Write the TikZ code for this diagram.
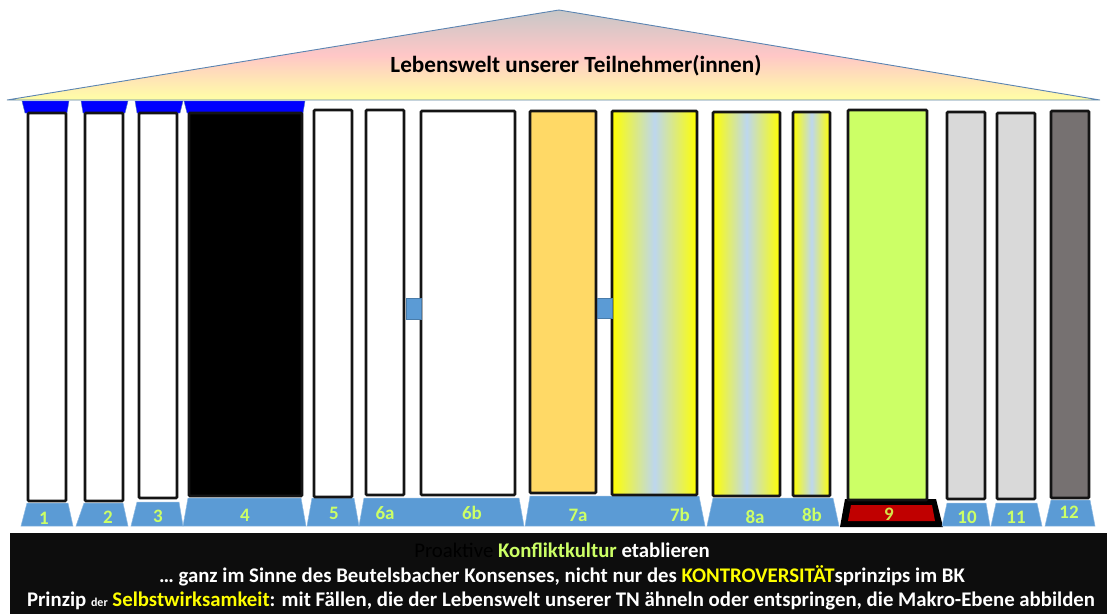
\documentclass[tikz,border=0pt]{standalone}
\usepackage{fontspec}
\setmainfont{Carlito}
\definecolor{capblue}{HTML}{0000FF}
\definecolor{baseblue}{HTML}{5B9BD5}
\definecolor{lgreen}{HTML}{CCFF66}
\definecolor{orangey}{HTML}{FFD966}
\definecolor{lblue}{HTML}{BDD7EE}
\definecolor{ygreen}{HTML}{CCFF66}
\definecolor{lgray}{HTML}{D9D9D9}
\definecolor{dgray}{HTML}{767171}
\definecolor{darkred}{HTML}{C00000}
\definecolor{band}{HTML}{0D0D0D}
\definecolor{roofline}{HTML}{5B84B1}
\definecolor{kyellow}{HTML}{FFFF00}
\definecolor{nineyellow}{HTML}{D4E34A}
\tikzset{
  col/.style={draw=black!92, line width=2.6pt, rounded corners=1pt, inner sep=0pt},
  gradcol/.style={col, left color=kyellow, right color=kyellow, middle color=lblue},
  capital/.style={fill=capblue, draw=roofline, line width=0.4pt},
  basepart/.style={fill=baseblue, draw=baseblue!70!white, line width=0.5pt},
  blabel/.style={text=lgreen, font=\bfseries\fontsize{19}{19}\selectfont, inner sep=0pt},
  link/.style={fill=baseblue, draw=baseblue!80!black, line width=0.5pt, inner sep=0pt},
  line/.style={text=white, font=\bfseries\fontsize{20.8}{22}\selectfont, inner sep=0pt},
}
\begin{document}
\begin{tikzpicture}[x=1pt,y=-1pt]
\useasboundingbox (0,0) rectangle (1107,614);
% roof
\shade[top color=black!22, bottom color=yellow!35, middle color=red!22] (7,100) -- (559,10) -- (1100,100) -- cycle;
\draw[roofline, line width=0.9pt] (7,100) -- (559,10) -- (1100,100) -- cycle;
\node[font=\bfseries\fontsize{23.2}{24}\selectfont, inner sep=0pt] (title) at (576,66) {Lebenswelt unserer Teilnehmer(innen)};
% capitals
\draw[capital] (22,101) -- (69,101) -- (67,113) -- (25,113) -- cycle;
\draw[capital] (81,101) -- (128,101) -- (125,113) -- (83,113) -- cycle;
\draw[capital] (135,101) -- (183,101) -- (180,113) -- (137,113) -- cycle;
\draw[capital] (184,101) -- (305,101) -- (303,113) -- (187,113) -- cycle;
% bases
\draw[basepart] (27,503) -- (68,503) -- (73,526) -- (21,526) -- cycle;
\draw[basepart] (84,503) -- (123,503) -- (128,526) -- (76,526) -- cycle;
\draw[basepart] (137,502) -- (179,502) -- (183,526) -- (131,526) -- cycle;
\draw[basepart] (188,498) -- (301,498) -- (306,526) -- (183,526) -- cycle;
\draw[basepart] (312,498) -- (354,498) -- (359,526) -- (307,526) -- cycle;
\draw[basepart] (364,498) -- (519,498) -- (524,526) -- (359,526) -- cycle;
\draw[basepart] (530,496) -- (699,496) -- (705,526) -- (525,526) -- cycle;
\draw[basepart] (713,498) -- (833,498) -- (839,526) -- (707,526) -- cycle;
\fill[black] (845,499) -- (936,499) -- (943,527) -- (840,527) -- cycle;
\fill[darkred] (851,505) -- (932,505) -- (935,521) -- (848,521) -- cycle;
\draw[basepart] (947,503) -- (986,503) -- (990,526) -- (942,526) -- cycle;
\draw[basepart] (996,503) -- (1037,503) -- (1042,526) -- (991,526) -- cycle;
\draw[basepart] (1051,500) -- (1090,500) -- (1095,526) -- (1045,526) -- cycle;
% columns
\node[col, fill=white, minimum width=38pt, minimum height=388pt] (c1) at (47,307) {};
\node[col, fill=white, minimum width=38pt, minimum height=388pt] (c2) at (104,307) {};
\node[col, fill=white, minimum width=38pt, minimum height=385pt] (c3) at (158,305.5) {};
\node[col, fill=black, minimum width=113pt, minimum height=383pt] (c4) at (245.5,304.5) {};
\node[col, fill=white, minimum width=38pt, minimum height=387pt] (c5) at (333,303.5) {};
\node[col, fill=white, minimum width=38pt, minimum height=385pt] (c6a) at (385,302.5) {};
\node[col, fill=white, minimum width=94pt, minimum height=384pt] (c6b) at (468,303) {};
\node[col, fill=orangey, minimum width=66pt, minimum height=382pt] (c7a) at (563,302) {};
\node[gradcol, minimum width=85pt, minimum height=384pt] (c7b) at (654.5,303) {};
\node[gradcol, minimum width=67pt, minimum height=384pt] (c8a) at (746.5,304) {};
\node[gradcol, minimum width=37pt, minimum height=384pt] (c8b) at (811.5,304) {};
\node[col, fill=ygreen, minimum width=79pt, minimum height=390pt] (c9) at (887.5,305) {};
\node[col, fill=lgray, minimum width=38pt, minimum height=387pt] (c10) at (966,305.5) {};
\node[col, fill=lgray, minimum width=38pt, minimum height=386pt] (c11) at (1016,306) {};
\node[col, fill=dgray, minimum width=38pt, minimum height=387pt] (c12) at (1070,304.5) {};
% links
\node[link, minimum width=15pt, minimum height=21pt] (l6) at (413.5,309) {};
\node[link, minimum width=15pt, minimum height=20pt] (l7) at (604.5,308) {};
% base labels
\node[blabel] (t1) at (44,518) {1};
\node[blabel] (t2) at (108,517) {2};
\node[blabel] (t3) at (158,516) {3};
\node[blabel] (t4) at (245,515) {4};
\node[blabel] (t5) at (334,513) {5};
\node[blabel] (t6a) at (385,513) {6a};
\node[blabel] (t6b) at (472,513) {6b};
\node[blabel] (t7a) at (578,515) {7a};
\node[blabel] (t7b) at (680,515) {7b};
\node[blabel] (t8a) at (755,517) {8a};
\node[blabel] (t8b) at (812,515) {8b};
\node[blabel, text=nineyellow] (t9) at (889,514) {9};
\node[blabel] (t10) at (967,517) {10};
\node[blabel] (t11) at (1016,517) {11};
\node[blabel] (t12) at (1069,512) {12};
% text band
\fill[band] (10,533) rectangle (1107,614);
\node[line] (l1) at (562,550) {{\mdseries\color{black}Proaktive} \textcolor{lgreen}{Konfliktkultur} etablieren};
\node[line] (l2) at (562,576) {… ganz im Sinne des Beutelsbacher Konsenses, nicht nur des \textcolor{kyellow}{KONTROVERSITÄT}sprinzips im BK};
\node[line] (l3) at (561,601) {Prinzip {\fontsize{12}{12}\selectfont der} \textcolor{kyellow}{Selbstwirksamkeit}: mit Fällen, die der Lebenswelt unserer TN ähneln oder entspringen, die Makro-Ebene abbilden};
\end{tikzpicture}
\end{document}
